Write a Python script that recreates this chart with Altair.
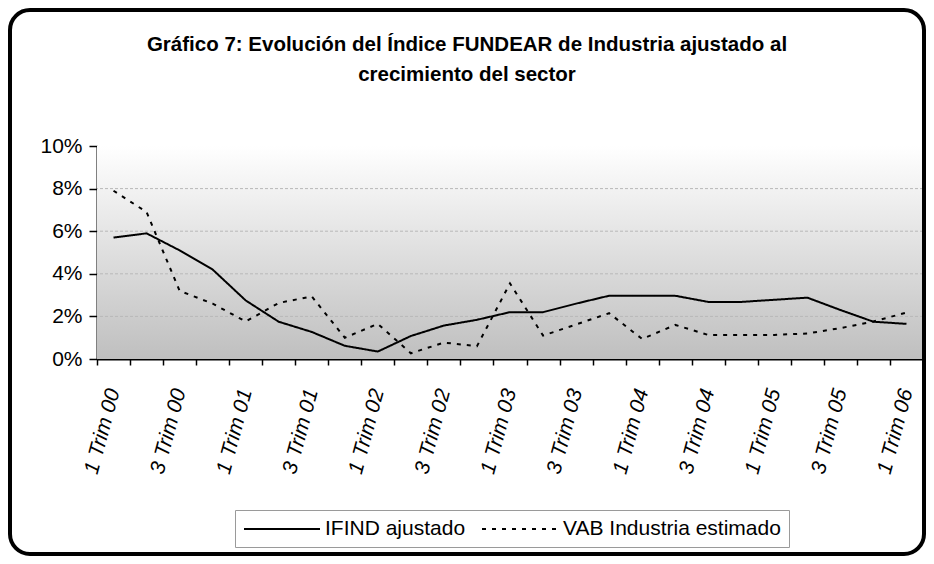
import altair as alt
import pandas as pd

quarters = [
    "1 Trim 00", "2 Trim 00", "3 Trim 00", "4 Trim 00",
    "1 Trim 01", "2 Trim 01", "3 Trim 01", "4 Trim 01",
    "1 Trim 02", "2 Trim 02", "3 Trim 02", "4 Trim 02",
    "1 Trim 03", "2 Trim 03", "3 Trim 03", "4 Trim 03",
    "1 Trim 04", "2 Trim 04", "3 Trim 04", "4 Trim 04",
    "1 Trim 05", "2 Trim 05", "3 Trim 05", "4 Trim 05",
    "1 Trim 06",
]
ifind = [5.7, 5.9, 5.1, 4.2, 2.75, 1.75, 1.27, 0.62, 0.35, 1.08, 1.57, 1.84, 2.2,
         2.2, 2.6, 2.97, 2.97, 2.97, 2.68, 2.68, 2.78, 2.88, 2.3, 1.75, 1.65]
vab = [7.9, 6.9, 3.2, 2.6, 1.76, 2.63, 2.94, 1.0, 1.65, 0.27, 0.77, 0.6, 3.55,
       1.1, 1.62, 2.15, 0.94, 1.6, 1.13, 1.13, 1.13, 1.2, 1.45, 1.76, 2.18]
series_names = ["IFIND ajustado", "VAB Industria estimado"]
title_lines = ["Gráfico 7: Evolución del Índice FUNDEAR de Industria ajustado al",
               "crecimiento del sector"]
grid_values = [2, 4, 6, 8]
y_ticks = [0, 2, 4, 6, 8, 10]

W, H = 826, 213
PAD_L, PAD_T, PAD_R, PAD_B = 89, 138, 3, 197

rows = []
for q, a, b in zip(quarters, ifind, vab):
    rows.append({"q": q, "serie": series_names[0], "v": a})
    rows.append({"q": q, "serie": series_names[1], "v": b})
df = pd.DataFrame(rows)

FONT = "Liberation Sans"
FS = 21

yscale = alt.Scale(domain=[0, 10], nice=False)

bg = alt.Chart(pd.DataFrame({"top": [10], "bottom": [0]})).mark_rect(
    fill=alt.LinearGradient(
        gradient="linear",
        stops=[alt.GradientStop(color="#ffffff", offset=0),
               alt.GradientStop(color="#bfbfbf", offset=1)],
        x1=0, x2=0, y1=0, y2=1,
    ),
).encode(
    x=alt.value(0), x2=alt.value(W),
    y=alt.Y("top:Q", scale=yscale), y2="bottom:Q",
)

grid = alt.Chart(pd.DataFrame({"g": grid_values})).mark_rule(
    color="#b8b8b8", strokeDash=[3, 2], strokeWidth=1
).encode(y=alt.Y("g:Q", scale=yscale))

lines = alt.Chart(df).mark_line(color="black", strokeWidth=2).encode(
    x=alt.X(
        "q:N", sort=quarters, bandPosition=0.5,
        scale=alt.Scale(type="band", paddingInner=0, paddingOuter=0),
        axis=alt.Axis(
            title=None, tickBand="extent", labelAngle=285, labelAlign="right",
            labelBaseline="middle", labelFontStyle="italic", labelFontSize=FS,
            labelFont=FONT, labelColor="black", labelPadding=24, labelOverlap=False,
            labelExpr="(substring(datum.label,0,1)=='1' || substring(datum.label,0,1)=='3') ? datum.label : ''",
            tickColor="black", tickSize=6, tickWidth=1.5,
            domainColor="black", domainWidth=2, grid=False,
        ),
    ),
    y=alt.Y(
        "v:Q", scale=yscale,
        axis=alt.Axis(
            title=None, values=y_ticks, labelExpr="datum.value + '%'",
            labelFontSize=FS, labelFont=FONT, labelColor="black", labelPadding=7,
            tickColor="black", tickSize=8, tickWidth=1.5,
            domainColor="black", domainWidth=2, grid=False,
        ),
    ),
    strokeDash=alt.StrokeDash(
        "serie:N",
        scale=alt.Scale(domain=series_names, range=[[1, 0], [4, 6]]),
        legend=alt.Legend(
            title=None, orient="none", legendX=138, legendY=364,
            direction="horizontal", symbolType="M-1,0L6.6,0", symbolSize=400,
            symbolStrokeWidth=2, symbolStrokeColor="black",
            labelFontSize=FS, labelFont=FONT, labelColor="black", labelLimit=600,
            labelOffset=60, columnPadding=12, padding=8,
            strokeColor="#9a9a9a", fillColor="white",
        ),
    ),
)

title1 = alt.Chart(pd.DataFrame({"t": [title_lines[0]]})).mark_text(
    font=FONT, fontSize=20.5, fontWeight="bold", color="black", baseline="middle", align="center"
).encode(text="t:N", x=alt.value(370), y=alt.value(-101))
title2 = alt.Chart(pd.DataFrame({"t": [title_lines[1]]})).mark_text(
    font=FONT, fontSize=20.5, fontWeight="bold", color="black", baseline="middle", align="center"
).encode(text="t:N", x=alt.value(370), y=alt.value(-71))

frame = alt.Chart(pd.DataFrame({"a": [0]})).mark_rect(
    fill=None, stroke="black", strokeWidth=4, cornerRadius=20
).encode(
    x=alt.value(2 - PAD_L), x2=alt.value(916 - PAD_L),
    y=alt.value(2 - PAD_T), y2=alt.value(546 - PAD_T),
)

chart = alt.layer(bg, grid, lines, title1, title2, frame).properties(
    width=W, height=H,
    autosize=alt.AutoSizeParams(type="none"),
    padding={"left": PAD_L, "top": PAD_T, "right": PAD_R, "bottom": PAD_B},
).configure_view(stroke="#8c8c8c", strokeWidth=2).configure(background="white")

chart.save("out.html", embed_options={"renderer": "svg", "actions": False})
